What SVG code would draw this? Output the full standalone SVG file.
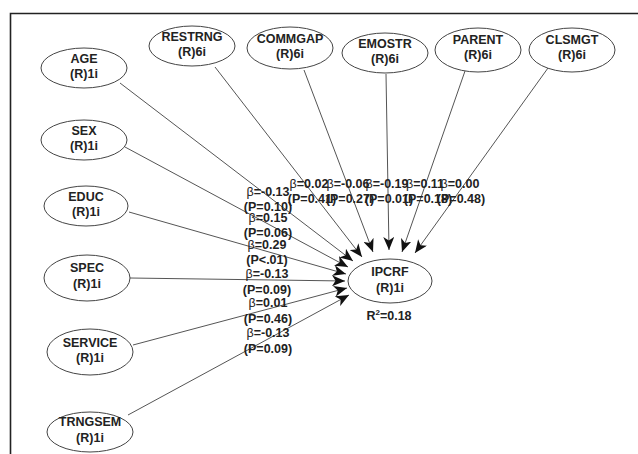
<svg xmlns="http://www.w3.org/2000/svg" width="638" height="454" viewBox="0 0 638 454">
<style>
.node ellipse{fill:#fff;stroke:#444;stroke-width:1}
.node text{font-family:"Liberation Sans",Arial,sans-serif;font-weight:bold;font-size:12.5px;fill:#222;text-anchor:middle}
.conn line{stroke:#555;stroke-width:1;marker-end:url(#ah)}
.lbl text{font-family:"Liberation Sans",Arial,sans-serif;font-weight:bold;font-size:12.5px;fill:#222;text-anchor:middle}
.b{font-weight:normal}
</style>
<defs>
<marker id="ah" markerUnits="userSpaceOnUse" viewBox="0 0 13 11" refX="13" refY="5.5" markerWidth="13" markerHeight="11" orient="auto">
<path d="M0,0 L13,5.5 L0,11 L3.5,5.5 z" fill="#111"/>
</marker>
</defs>
<rect width="638" height="454" fill="#fff"/>
<path d="M10.5,454 V13.5 H638" fill="none" stroke="#222" stroke-width="1.6"/>
<g class="conn" id="connectors">
<line x1="120" y1="83" x2="353" y2="261"/>
<line x1="215" y1="67" x2="362" y2="257"/>
<line x1="304" y1="70" x2="373" y2="252"/>
<line x1="386" y1="74" x2="389" y2="250"/>
<line x1="465" y1="71" x2="402" y2="252"/>
<line x1="548" y1="68" x2="415" y2="253"/>
<line x1="125" y1="147" x2="348" y2="267"/>
<line x1="129" y1="212" x2="346" y2="274"/>
<line x1="130" y1="278" x2="345" y2="281"/>
<line x1="133" y1="345" x2="347" y2="288"/>
<line x1="128" y1="415" x2="349" y2="295"/>
</g>
<g class="node" id="AGE"><ellipse cx="84" cy="68" rx="43" ry="20"/><text x="84" y="63">AGE</text><text x="84" y="78">(R)1i</text></g>
<g class="node" id="RESTRNG"><ellipse cx="192" cy="46" rx="43" ry="20"/><text x="192" y="41">RESTRNG</text><text x="192" y="56">(R)6i</text></g>
<g class="node" id="COMMGAP"><ellipse cx="290" cy="48" rx="43" ry="21"/><text x="290" y="43">COMMGAP</text><text x="290" y="58">(R)6i</text></g>
<g class="node" id="EMOSTR"><ellipse cx="385" cy="53" rx="43" ry="20"/><text x="385" y="48">EMOSTR</text><text x="385" y="63">(R)6i</text></g>
<g class="node" id="PARENT"><ellipse cx="478" cy="50" rx="43" ry="22"/><text x="478" y="44">PARENT</text><text x="478" y="59">(R)6i</text></g>
<g class="node" id="CLSMGT"><ellipse cx="572" cy="50" rx="43" ry="22"/><text x="572" y="44">CLSMGT</text><text x="572" y="59">(R)6i</text></g>
<g class="node" id="SEX"><ellipse cx="84" cy="140" rx="43" ry="20"/><text x="84" y="135">SEX</text><text x="84" y="150">(R)1i</text></g>
<g class="node" id="EDUC"><ellipse cx="86" cy="206" rx="42" ry="20"/><text x="86" y="201">EDUC</text><text x="86" y="216">(R)1i</text></g>
<g class="node" id="SPEC"><ellipse cx="87" cy="278" rx="43" ry="23"/><text x="87" y="272">SPEC</text><text x="87" y="288">(R)1i</text></g>
<g class="node" id="SERVICE"><ellipse cx="90" cy="352" rx="43" ry="23"/><text x="90" y="347">SERVICE</text><text x="90" y="362">(R)1i</text></g>
<g class="node" id="TRNGSEM"><ellipse cx="90" cy="432" rx="43" ry="20"/><text x="90" y="426">TRNGSEM</text><text x="90" y="442">(R)1i</text></g>
<g class="node" id="IPCRF"><ellipse cx="390" cy="281" rx="42" ry="22"/><text x="390" y="276">IPCRF</text><text x="390" y="292">(R)1i</text></g>
<g class="lbl" id="labels">
<text x="268" y="196"><tspan class="b">β</tspan>=-0.13</text>
<text x="268" y="211">(P=0.10)</text>
<text x="268" y="222"><tspan class="b">β</tspan>=0.15</text>
<text x="268" y="237">(P=0.06)</text>
<text x="267" y="249"><tspan class="b">β</tspan>=0.29</text>
<text x="267" y="264">(P&lt;.01)</text>
<text x="267" y="278"><tspan class="b">β</tspan>=-0.13</text>
<text x="267" y="294">(P=0.09)</text>
<text x="268" y="307"><tspan class="b">β</tspan>=0.01</text>
<text x="268" y="323">(P=0.46)</text>
<text x="268" y="337"><tspan class="b">β</tspan>=-0.13</text>
<text x="268" y="353">(P=0.09)</text>
<text x="309" y="188"><tspan class="b">β</tspan>=0.02</text>
<text x="312" y="203">(P=0.41)</text>
<text x="348" y="188"><tspan class="b">β</tspan>=-0.06</text>
<text x="350" y="203">(P=0.27)</text>
<text x="387" y="188"><tspan class="b">β</tspan>=-0.19</text>
<text x="389" y="203">(P=0.01)</text>
<text x="425" y="188"><tspan class="b">β</tspan>=0.11</text>
<text x="428" y="203">(P=0.18)</text>
<text x="460" y="188"><tspan class="b">β</tspan>=0.00</text>
<text x="461" y="203">(P=0.48)</text>
<text x="389" y="320">R<tspan font-size="8" dy="-5">2</tspan><tspan dy="5">=0.18</tspan></text>
</g>
</svg>
